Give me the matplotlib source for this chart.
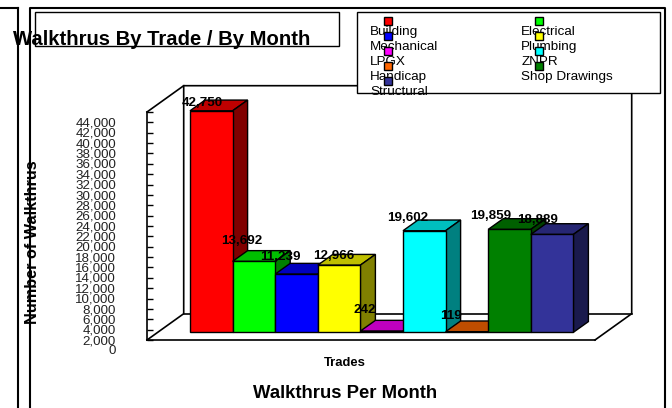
import matplotlib
matplotlib.use('Agg')
import matplotlib.pyplot as plt
from matplotlib.lines import Line2D
from matplotlib.patches import Polygon, Rectangle
from matplotlib.transforms import Affine2D, IdentityTransform
from matplotlib.colors import to_rgb

trades = ['Building', 'Electrical', 'Mechanical', 'Plumbing', 'LPGX', 'ZNPR',
          'Handicap', 'Shop Drawings', 'Structural']
walkthrus = [42750, 13692, 11239, 12966, 242, 19602, 119, 19859, 18889]
bar_colors = ['#FF0000', '#00FF00', '#0000FF', '#FFFF00', '#FF00FF', '#00FFFF',
              '#FF6600', '#008000', '#333399']
y_ticks = list(range(0, 44001, 2000))

plt.rcParams['font.family'] = ['Liberation Sans', 'DejaVu Sans']
W, H = 672, 408
fig = plt.figure(figsize=(W / 100, H / 100), dpi=100, facecolor='white')
no_trans = IdentityTransform()


def px(x, y):
    # pixel position measured from the top left corner
    return (x, H - y)


def line(*points, lw=1.2, z=1):
    xs, ys = zip(*[px(*p) for p in points])
    fig.add_artist(Line2D(xs, ys, transform=no_trans, color='black', lw=lw, zorder=z))


def label(x, y, text, size=9.5, weight='normal', rotation=0, ha='center', z=6):
    fig.text(*px(x, y), text, transform=no_trans, fontsize=size, fontweight=weight,
             rotation=rotation, ha=ha, va='center', color='black', zorder=z)


# front plane of the 3D box
left, right, top, bottom = 147, 595, 112, 340
ax = fig.add_axes([left / W, 1 - bottom / H, (right - left) / W, (bottom - top) / H])
ax.patch.set_alpha(0)
bar_w = 42.6
ax.set_xlim(-(190 - left) / bar_w, (right - 190) / bar_w)
ax.set_ylim(0, 44000)
ax.set_xticks([])
ax.set_yticks(y_ticks)
ax.set_yticklabels([f'{v:,}' for v in y_ticks], fontsize=9.6, color='#222222')
ax.tick_params(axis='y', direction='in', length=4.5, width=1, pad=22.3)
for t in ax.get_yticklabels():
    t.set_transform(t.get_transform() + Affine2D().translate(0, -10))
ax.spines['top'].set_visible(False)
ax.spines['right'].set_visible(False)
for s in ['left', 'bottom']:
    ax.spines[s].set_linewidth(1.2)

# outer frames
line((0, 7.5), (18, 7.5), lw=1.5)
line((18, 7.5), (18, 408), lw=1.5)
line((30, 408), (30, 7.5), (665, 7.5), (665, 408), lw=1.5)

# walls and floor behind the bars
wall_dx, wall_dy = 36.7, 26.3
line((left, top), (left + wall_dx, top - wall_dy), (right + wall_dx, top - wall_dy),
     (right + wall_dx, bottom - wall_dy), (right, bottom))
line((left, bottom), (left + wall_dx, bottom - wall_dy), (left + wall_dx, top - wall_dy))
line((left + wall_dx, bottom - wall_dy), (right + wall_dx, bottom - wall_dy))

# bars sit a little up the floor, each has a front, top and side face
bar_lift = Affine2D().translate(0, 7.7)
bar_trans = ax.transData + bar_lift
depth_x, depth_y = 15, 10.7
label_offsets = [(-9, -8), (-12, -20), (-16, -17), (-5, -9), (-17, -21),
                 (-17, -13), (-16, -16), (-19, -13), (-15, -14)]

for i, (v, c) in enumerate(zip(walkthrus, bar_colors)):
    x0, y0 = bar_trans.transform((i, 0))
    x1, y1 = bar_trans.transform((i + 1, v))
    rgb = to_rgb(c)
    top_col = tuple(k * 0.75 for k in rgb)
    side_col = tuple(k * 0.5 for k in rgb)
    faces = [
        ([(x0, y1), (x1, y1), (x1 + depth_x, y1 + depth_y), (x0 + depth_x, y1 + depth_y)], top_col),
        ([(x1, y0), (x1, y1), (x1 + depth_x, y1 + depth_y), (x1 + depth_x, y0 + depth_y)], side_col),
        ([(x0, y0), (x1, y0), (x1, y1), (x0, y1)], rgb),
    ]
    for pts, col in faces:
        fig.add_artist(Polygon(pts, closed=True, transform=no_trans, facecolor=col,
                               edgecolor='black', lw=1, zorder=2 + i * 0.1))
    dx, dy = label_offsets[i]
    fig.text((x0 + x1) / 2 + dx, y1 - dy, f'{v:,}', transform=no_trans, fontsize=9.6,
             fontweight='bold', ha='center', va='center', color='black', zorder=6)

# title box and legend box
fig.add_artist(Rectangle(px(35, 46), 304, 34, transform=no_trans, facecolor='white',
                         edgecolor='black', lw=1, zorder=1.5))
fig.add_artist(Rectangle(px(357, 92.5), 303, 80.5, transform=no_trans, facecolor='white',
                         edgecolor='black', lw=1, zorder=4))

label(162, 39.5, 'Walkthrus By Trade / By Month', size=14.6, weight='bold')
label(32.5, 242, 'Number of Walkthrus', size=11.7, weight='bold', rotation=90)
label(345, 362.5, 'Trades', size=9.4, weight='bold')
label(345, 393.5, 'Walkthrus Per Month', size=13.3, weight='bold')

# legend goes row by row over two columns
for i, (name, c) in enumerate(zip(trades, bar_colors)):
    col, row = i % 2, i // 2
    text_x = 370 if col == 0 else 521.3
    mark_x = 387.7 if col == 0 else 538.7
    label(text_x, 32.2 + 15 * row, name, size=9.7, ha='left', z=5)
    fig.add_artist(Rectangle(px(mark_x - 4.2, 21 + 15 * row + 4.2), 8.4, 8.4, transform=no_trans,
                             facecolor=c, edgecolor='black', lw=1, zorder=5.5))

fig.savefig('out.png', dpi=100)
